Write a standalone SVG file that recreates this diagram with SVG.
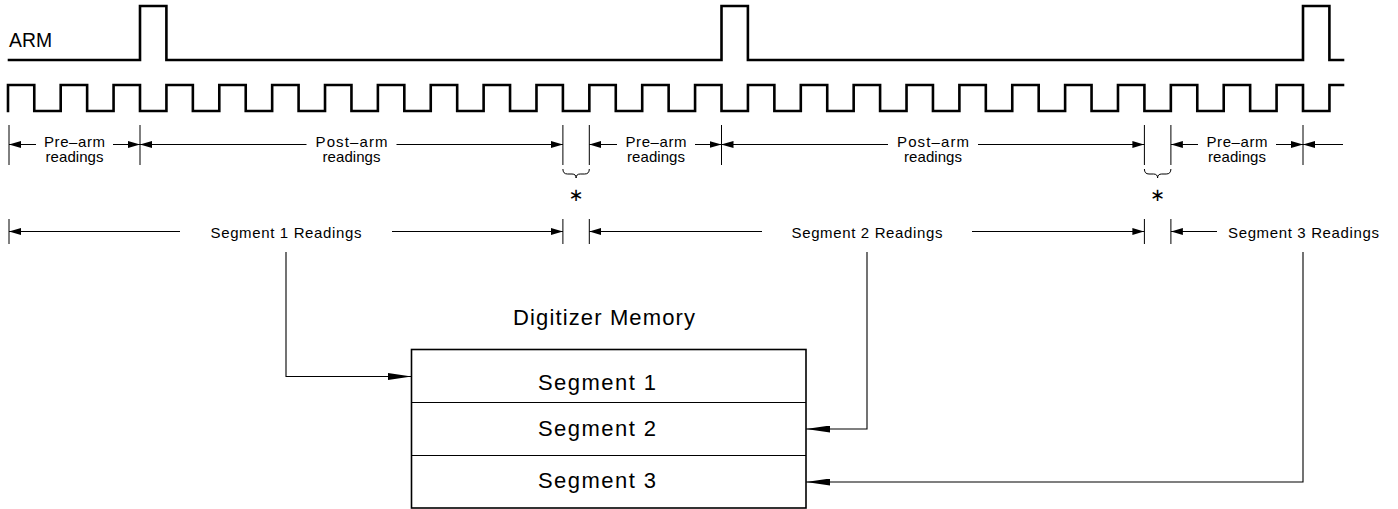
<svg xmlns="http://www.w3.org/2000/svg" width="1398" height="509" viewBox="0 0 1398 509">
<style>
  .wave { fill: none; stroke: #000; stroke-width: 2.6; stroke-linejoin: miter; stroke-linecap: square; }
  .dim { fill: none; stroke: #000; stroke-width: 1; }
  .ext { fill: none; stroke: #000; stroke-width: 1; }
  .conn { fill: none; stroke: #000; stroke-width: 1.1; }
  .box { fill: #fff; stroke: #000; stroke-width: 1.6; }
  .div { fill: none; stroke: #000; stroke-width: 1.2; }
  text { font-family: "Liberation Sans", Arial, sans-serif; fill: #000; }
  .lbl { font-size: 15px; text-anchor: middle; }
  .seg { font-size: 15px; }
  .big { font-size: 22px; }
  .star { font-family: "DejaVu Sans", sans-serif; font-size: 18px; text-anchor: middle; }
</style>
<defs>
  <marker id="ah" viewBox="0 0 12 7" refX="12" refY="3.5" markerWidth="12" markerHeight="7" markerUnits="userSpaceOnUse" orient="auto">
    <path d="M0,0 L12,3.5 L0,7 z" fill="#000"/>
  </marker>
  <marker id="ahL" viewBox="0 0 24 7" refX="24" refY="3.5" markerWidth="24" markerHeight="7" markerUnits="userSpaceOnUse" orient="auto">
    <path d="M0,0 L24,3.5 L0,7 z" fill="#000"/>
  </marker>
</defs>

<g id="arm-signal">
  <text x="9" y="47" font-size="21" textLength="43" lengthAdjust="spacingAndGlyphs">ARM</text>
  <path class="wave" d="M9,60 H140 V6 H166.4 V60 H721.5 V6 H747.9 V60 H1303 V6 H1329.4 V60 H1343"/>
</g>

<g id="clock">
  <path class="wave" d="M8,111 V85 H34.27
    v26 h26.432 v-26 h26.432 v26 h26.432 v-26 h26.432
    v26 h26.432 v-26 h26.432 v26 h26.432 v-26 h26.432
    v26 h26.432 v-26 h26.432 v26 h26.432 v-26 h26.432
    v26 h26.432 v-26 h26.432 v26 h26.432 v-26 h26.432
    v26 h26.432 v-26 h26.432 v26 h26.432 v-26 h26.432
    v26 h26.432 v-26 h26.432 v26 h26.432 v-26 h26.432
    v26 h26.432 v-26 h26.432 v26 h26.432 v-26 h26.432
    v26 h26.432 v-26 h26.432 v26 h26.432 v-26 h26.432
    v26 h26.432 v-26 h26.432 v26 h26.432 v-26 h26.432
    v26 h26.432 v-26 h26.432 v26 h26.432 v-26 h26.432
    v26 h26.432 v-26 h26.432 v26 h26.432 v-26 h26.432
    v26 h26.432 v-26 h26.432 v26 h26.432 v-26 h26.432
    v26 h26.432 v-26 H1343"/>
</g>

<g id="reading-dimensions">
  <path class="ext" d="M9,125 V165 M140,125 V165 M562.9,125 V165 M589.3,125 V165 M721.5,125 V165 M1144.4,125 V165 M1170.9,125 V165 M1303,125 V165"/>
  <line class="dim" x1="36" y1="144.5" x2="9" y2="144.5" marker-end="url(#ah)"/>
  <line class="dim" x1="113" y1="144.5" x2="140" y2="144.5" marker-end="url(#ah)"/>
  <line class="dim" x1="306.5" y1="144.5" x2="140" y2="144.5" marker-end="url(#ah)"/>
  <line class="dim" x1="396.5" y1="144.5" x2="562.9" y2="144.5" marker-end="url(#ah)"/>
  <line class="dim" x1="617" y1="144.5" x2="589.3" y2="144.5" marker-end="url(#ah)"/>
  <line class="dim" x1="695" y1="144.5" x2="721.5" y2="144.5" marker-end="url(#ah)"/>
  <line class="dim" x1="888" y1="144.5" x2="721.5" y2="144.5" marker-end="url(#ah)"/>
  <line class="dim" x1="978" y1="144.5" x2="1144.4" y2="144.5" marker-end="url(#ah)"/>
  <line class="dim" x1="1198" y1="144.5" x2="1170.9" y2="144.5" marker-end="url(#ah)"/>
  <line class="dim" x1="1276" y1="144.5" x2="1303" y2="144.5" marker-end="url(#ah)"/>
  <line class="dim" x1="1343" y1="144.5" x2="1303" y2="144.5" marker-end="url(#ah)"/>

  <text class="lbl" x="74.5" y="147" textLength="61" lengthAdjust="spacing">Pre–arm</text>
  <text class="lbl" x="74.5" y="162" textLength="58" lengthAdjust="spacing">readings</text>
  <text class="lbl" x="351.5" y="147" textLength="72" lengthAdjust="spacing">Post–arm</text>
  <text class="lbl" x="351.5" y="162" textLength="58" lengthAdjust="spacing">readings</text>
  <text class="lbl" x="656" y="147" textLength="61" lengthAdjust="spacing">Pre–arm</text>
  <text class="lbl" x="656" y="162" textLength="58" lengthAdjust="spacing">readings</text>
  <text class="lbl" x="933" y="147" textLength="72" lengthAdjust="spacing">Post–arm</text>
  <text class="lbl" x="933" y="162" textLength="58" lengthAdjust="spacing">readings</text>
  <text class="lbl" x="1237" y="147" textLength="61" lengthAdjust="spacing">Pre–arm</text>
  <text class="lbl" x="1237" y="162" textLength="58" lengthAdjust="spacing">readings</text>

  <path class="dim" d="M562.9,169 Q562.9,174 567.5,174 L572,174 Q576.1,174 576.1,178 Q576.1,174 580.2,174 L584.7,174 Q589.3,174 589.3,169"/>
  <path class="dim" d="M1144.4,169 Q1144.4,174 1149,174 L1153.5,174 Q1157.6,174 1157.6,178 Q1157.6,174 1161.7,174 L1166.2,174 Q1170.9,174 1170.9,169"/>
  <text class="star" x="576.1" y="201">∗</text>
  <text class="star" x="1157.6" y="201">∗</text>
</g>

<g id="segment-dimensions">
  <path class="ext" d="M9,219 V244 M562.9,219 V244 M589.3,219 V244 M1144.4,219 V244 M1170.9,219 V244"/>
  <line class="dim" x1="180" y1="231.5" x2="9" y2="231.5" marker-end="url(#ah)"/>
  <line class="dim" x1="392" y1="231.5" x2="562.9" y2="231.5" marker-end="url(#ah)"/>
  <line class="dim" x1="762" y1="231.5" x2="589.3" y2="231.5" marker-end="url(#ah)"/>
  <line class="dim" x1="972" y1="231.5" x2="1144.4" y2="231.5" marker-end="url(#ah)"/>
  <line class="dim" x1="1217" y1="231.5" x2="1170.9" y2="231.5" marker-end="url(#ah)"/>
  <text class="seg" x="286" y="238" text-anchor="middle" textLength="151" lengthAdjust="spacing">Segment 1 Readings</text>
  <text class="seg" x="867" y="238" text-anchor="middle" textLength="151" lengthAdjust="spacing">Segment 2 Readings</text>
  <text class="seg" x="1228" y="238" textLength="151" lengthAdjust="spacing">Segment 3 Readings</text>
</g>

<g id="digitizer-memory">
  <text class="big" x="513" y="325" textLength="182" lengthAdjust="spacing">Digitizer Memory</text>
  <rect class="box" x="411.5" y="349.5" width="394.5" height="158.5"/>
  <g id="mem-segment-1">
    <text class="big" x="538" y="390" textLength="118" lengthAdjust="spacing">Segment 1</text>
  </g>
  <g id="mem-segment-2">
    <line class="div" x1="411.5" y1="402.5" x2="806" y2="402.5"/>
    <text class="big" x="538" y="436" textLength="118" lengthAdjust="spacing">Segment 2</text>
  </g>
  <g id="mem-segment-3">
    <line class="div" x1="411.5" y1="455.5" x2="806" y2="455.5"/>
    <text class="big" x="538" y="488" textLength="118" lengthAdjust="spacing">Segment 3</text>
  </g>
</g>

<g id="connectors">
  <path class="conn" d="M286,252 V376.5 H411.5" marker-end="url(#ahL)"/>
  <path class="conn" d="M867,252 V429 H806" marker-end="url(#ahL)"/>
  <path class="conn" d="M1303,252 V482 H806" marker-end="url(#ahL)"/>
</g>
</svg>
